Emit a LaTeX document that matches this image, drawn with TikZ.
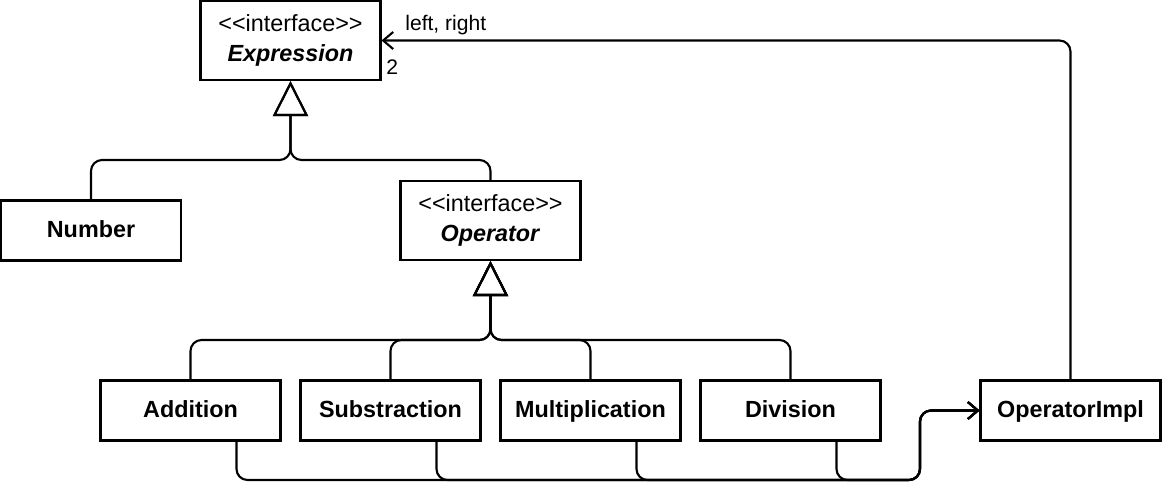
\documentclass[tikz,border=0pt]{standalone}
\usepackage{fontspec}
\setmainfont{Liberation Sans}[Ligatures=TeXOff]
\usetikzlibrary{arrows.meta}

\tikzset{
  box/.style={draw,line width=1.2pt,minimum width=3.6cm,inner sep=0pt},
  cls/.style={box,minimum height=1.2cm,text height=10.4pt,text depth=1.9pt,
    font=\fontsize{13.3}{16}\selectfont\bfseries},
  iface/.style={box,minimum height=1.58cm,align=center,font=\fontsize{13.3}{17}\selectfont},
  inherit/.style={line width=1.2pt,rounded corners=0.22cm,-{Triangle[open,length=0.7cm,width=0.7cm]}},
  uses/.style={line width=1.2pt,rounded corners=0.22cm,-{Straight Barb[length=0.2cm,width=0.34cm]}},
  role/.style={inner sep=0pt,anchor=base west,font=\fontsize{12}{14}\selectfont},
}

\begin{document}
\begin{tikzpicture}[x=0.02cm,y=-0.02cm]
\useasboundingbox (0,0) rectangle (1162,498);
% classes
\node[iface] (expr) at (290.5,40.5) {<\kern0pt<interface>\kern0pt>\\\textbf{\textit{Expression}}};
\node[cls] (num) at (91,230.5) {Number};
\node[iface] (op) at (490.5,220.5) {<\kern0pt<interface>\kern0pt>\\\textbf{\textit{Operator}}};
\node[cls] (add) at (190.5,410.5) {Addition};
\node[cls] (sub) at (390.5,410.5) {Substraction};
\node[cls] (mul) at (590.5,410.5) {Multiplication};
\node[cls] (dvs) at (790.5,410.5) {Division};
\node[cls] (impl) at (1070.5,410.5) {OperatorImpl};
% junctions
\coordinate (exprjoin) at (290.5,160);
\coordinate (opjoin) at (490.5,340);
\coordinate (bus) at (920,480);
% generalisation
\draw[inherit] (num.north) |- (exprjoin) -- (expr.south);
\draw[inherit] (op.north) |- (exprjoin) -- (expr.south);
\foreach \c in {add,sub,mul,dvs}
  \draw[inherit] (\c.north) |- (opjoin) -- (op.south);
% dependencies on OperatorImpl
\foreach \c in {add,sub,mul,dvs}
  \draw[uses] ([xshift=0.92cm]\c.south) |- (bus) |- (impl.west);
% association
\draw[uses] (impl.north) |- (expr.east);
\node[role] (rolename) at (405,30) {left, right};
\node[role] (mult) at (386,74) {2};
\end{tikzpicture}
\end{document}
